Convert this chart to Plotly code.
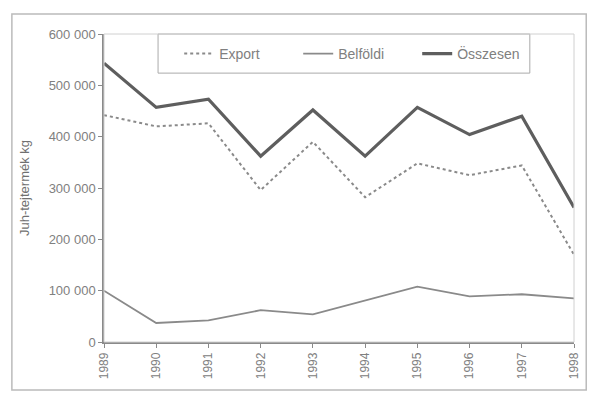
import plotly.graph_objects as go

years = [1989, 1990, 1991, 1992, 1993, 1994, 1995, 1996, 1997, 1998]
export = [442000, 420000, 426000, 296000, 390000, 282000, 348000, 325000, 344000, 170000]
belfoldi = [100000, 37000, 42000, 62000, 54000, 81000, 108000, 89000, 93000, 85000]
osszesen = [543000, 457000, 473000, 362000, 452000, 362000, 457000, 404000, 440000, 262000]
y_ticks = [0, 100000, 200000, 300000, 400000, 500000, 600000]
y_tick_labels = ["0", "100 000", "200 000", "300 000", "400 000", "500 000", "600 000"]

fig = go.Figure()
fig.add_trace(go.Scatter(x=years, y=export, name="Export", mode="lines",
                         line=dict(color="#8a8a8a", width=2, dash="dot")))
fig.add_trace(go.Scatter(x=years, y=belfoldi, name="Belföldi", mode="lines",
                         line=dict(color="#8a8a8a", width=1.8)))
fig.add_trace(go.Scatter(x=years, y=osszesen, name="Összesen", mode="lines",
                         line=dict(color="#5e5e5e", width=3.2)))

fig.update_layout(
    width=592, height=397,
    margin=dict(l=104, r=18, t=34, b=55),
    paper_bgcolor="white", plot_bgcolor="white",
    font=dict(family="Liberation Sans, Arial, sans-serif", size=13, color="#808080"),
    showlegend=True,
    legend=dict(orientation="h", x=0.16, y=0.935, xanchor="left", yanchor="middle",
                borderwidth=0, bgcolor="rgba(0,0,0,0)",
                font=dict(size=14, color="#808080"), entrywidth=74, entrywidthmode="pixels"),
    xaxis=dict(range=[1989, 1998], tickvals=years, ticktext=[str(y) for y in years],
               tickangle=-90, showgrid=False, zeroline=False,
               showline=True, linecolor="#8a8a8a", linewidth=1.5,
               ticks="outside", ticklen=4, tickcolor="#8a8a8a",
               tickfont=dict(size=12)),
    yaxis=dict(range=[0, 600000], tickvals=y_ticks, ticktext=y_tick_labels,
               showgrid=False, zeroline=False,
               showline=True, linecolor="#8a8a8a", linewidth=1.5,
               ticks="outside", ticklen=4, tickcolor="#8a8a8a",
               tickfont=dict(size=13),
               title=dict(text="Juh-tejtermék kg", font=dict(size=13, color="#707070"), standoff=16)),
    shapes=[
        dict(type="rect", xref="paper", yref="paper", x0=0, y0=0, x1=1, y1=1,
             line=dict(color="#d0d0d0", width=1)),
        dict(type="rect", xref="paper", yref="paper", x0=-0.196, y0=-0.156, x1=1.026, y1=1.065,
             line=dict(color="#bbbbbb", width=1.5)),
        dict(type="rect", xref="paper", yref="paper", x0=0.115, y0=0.873, x1=0.906, y1=1.0,
             line=dict(color="#aaaaaa", width=1), fillcolor="white", layer="below"),
    ],
)

fig.write_html("out.html")
